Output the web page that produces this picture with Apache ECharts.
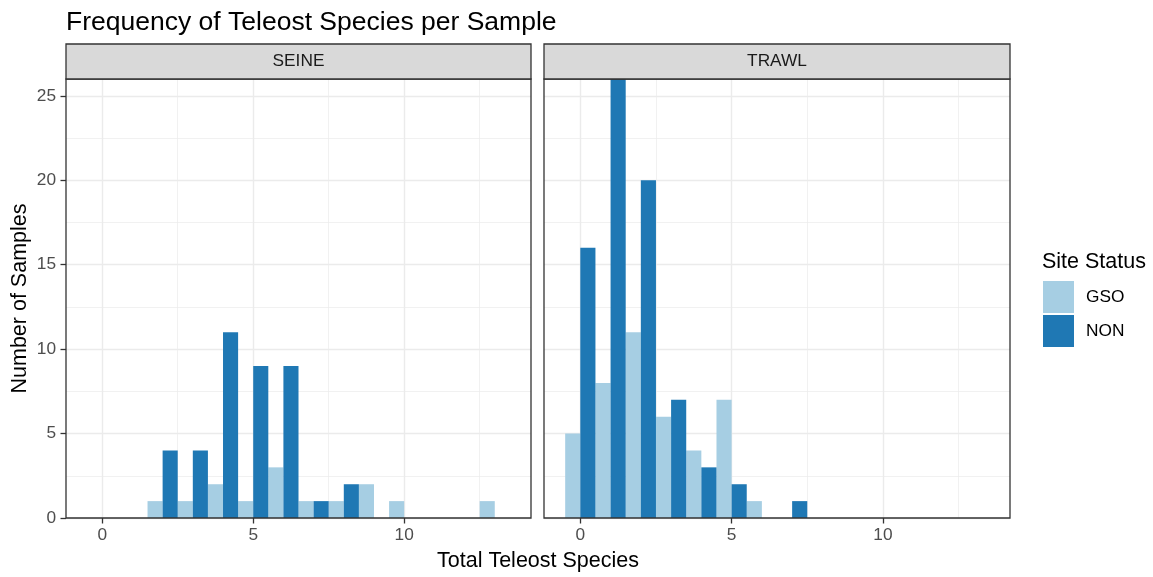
<!DOCTYPE html>
<html>
<head>
<meta charset="utf-8">
<script src="https://cdn.jsdelivr.net/npm/echarts@6/dist/echarts.min.js"></script>
<style>
  html, body { margin: 0; padding: 0; background: #ffffff; }
  #chart { width: 1153px; height: 577px; }
</style>
</head>
<body>
<div id="chart"></div>
<script>
// Histogram bins: number of teleost species caught per sample (bin centres, width 1)
const speciesBins = [0, 1, 2, 3, 4, 5, 6, 7, 8, 9, 10, 11, 12, 13];
// Sample counts per bin, by gear type and site status
const seineGSO = [0, 0, 1, 1, 2, 1, 3, 1, 1, 2, 1, 0, 0, 1];
const seineNON = [0, 0, 4, 4, 11, 9, 9, 1, 2, 0, 0, 0, 0, 0];
const trawlGSO = [5, 8, 11, 6, 4, 7, 1, 0, 0, 0, 0, 0, 0, 0];
const trawlNON = [16, 26, 20, 7, 3, 2, 0, 1, 0, 0, 0, 0, 0, 0];

const panelNames = ['SEINE', 'TRAWL'];
const statusNames = ['GSO', 'NON'];
const statusColors = ['#A6CEE3', '#1F78B4'];

const xMajorTicks = [0, 5, 10];
const xMinorTicks = [2.5, 7.5, 12.5];
const yMajorTicks = [0, 5, 10, 15, 20, 25];
const yMinorTicks = [2.5, 7.5, 12.5, 17.5, 22.5];

const xRange = [-1.2, 14.2];
const yRange = [0, 26];

// Layout
const FONT = "'Liberation Sans', Arial, sans-serif";
const panels = [
  { left: 66, width: 465 },
  { left: 544, width: 466 }
];
const panelTop = 79;
const panelHeight = 439;
const stripTop = 44;
const stripHeight = 35;
const gridColor = '#EBEBEB';
const darkLine = '#333333';

const chart = echarts.init(document.getElementById('chart'), null, { renderer: 'canvas' });

function pairs(values) {
  return speciesBins.map((b, i) => [b, values[i]]);
}

// Dodged histogram bars: GSO takes the left half of a bin, NON the right half
function dodgedBar(side) {
  return function (params, api) {
    const centre = api.value(0);
    const count = api.value(1);
    if (!count) return null;
    const x0 = side === 0 ? centre - 0.5 : centre;
    const x1 = side === 0 ? centre : centre + 0.5;
    const topLeft = api.coord([x0, count]);
    const bottomRight = api.coord([x1, 0]);
    return {
      type: 'rect',
      shape: {
        x: topLeft[0],
        y: topLeft[1],
        width: bottomRight[0] - topLeft[0],
        height: bottomRight[1] - topLeft[1]
      },
      style: { fill: api.visual('color') }
    };
  };
}

const grids = [], xAxes = [], yAxes = [], graphics = [];

panels.forEach((p, g) => {
  grids.push({
    left: p.left, top: panelTop, width: p.width, height: panelHeight,
    outerBoundsMode: 'none', containLabel: false, show: false
  });
  // major x: ticks, labels, major grid lines
  xAxes.push({
    gridIndex: g, type: 'value', min: xRange[0], max: xRange[1], position: 'bottom',
    axisLine: { show: false, onZero: false },
    axisTick: { show: true, customValues: xMajorTicks, length: 5.5, lineStyle: { color: darkLine, width: 1.3 } },
    axisLabel: { customValues: xMajorTicks, color: '#4D4D4D', fontSize: 17.3, fontFamily: FONT, margin: 9 },
    splitLine: { show: true, lineStyle: { color: gridColor, width: 1.4 } }
  });
  // minor x grid lines
  xAxes.push({
    gridIndex: g, type: 'value', min: xRange[0], max: xRange[1], position: 'bottom',
    axisLine: { show: false, onZero: false },
    axisTick: { show: false, customValues: xMinorTicks },
    axisLabel: { show: false },
    splitLine: { show: true, lineStyle: { color: gridColor, width: 0.7 } }
  });
  // major y
  yAxes.push({
    gridIndex: g, type: 'value', min: yRange[0], max: yRange[1], position: 'left',
    axisLine: { show: false, onZero: false },
    axisTick: { show: g === 0, customValues: yMajorTicks, length: 5.5, lineStyle: { color: darkLine, width: 1.3 } },
    axisLabel: { show: g === 0, customValues: yMajorTicks, color: '#4D4D4D', fontSize: 17.3, fontFamily: FONT, margin: 10 },
    splitLine: { show: true, lineStyle: { color: gridColor, width: 1.4 } }
  });
  // minor y grid lines
  yAxes.push({
    gridIndex: g, type: 'value', min: yRange[0], max: yRange[1], position: 'left',
    axisLine: { show: false, onZero: false },
    axisTick: { show: false, customValues: yMinorTicks },
    axisLabel: { show: false },
    splitLine: { show: true, lineStyle: { color: gridColor, width: 0.7 } }
  });

  // panel border drawn above the bars
  graphics.push({
    type: 'rect', z: 100,
    shape: { x: p.left, y: panelTop, width: p.width, height: panelHeight },
    style: { fill: null, stroke: darkLine, lineWidth: 1.3 }
  });
  // facet strip
  graphics.push({
    type: 'rect', z: 100,
    shape: { x: p.left, y: stripTop, width: p.width, height: stripHeight },
    style: { fill: '#D9D9D9', stroke: darkLine, lineWidth: 1.3 }
  });
  graphics.push({
    type: 'text', z: 101,
    x: p.left + p.width / 2, y: stripTop + stripHeight / 2,
    style: { text: panelNames[g], font: `17.3px ${FONT}`, fill: '#1A1A1A', textAlign: 'center', textVerticalAlign: 'middle' }
  });
});

// axis titles
graphics.push({
  type: 'text', z: 101,
  x: (panels[0].left + panels[1].left + panels[1].width) / 2, y: 561,
  style: { text: 'Total Teleost Species', font: `21.5px ${FONT}`, fill: '#000000', textAlign: 'center', textVerticalAlign: 'middle' }
});
graphics.push({
  type: 'text', z: 101,
  x: 20, y: panelTop + panelHeight / 2, rotation: Math.PI / 2,
  style: { text: 'Number of Samples', font: `21.5px ${FONT}`, fill: '#000000', textAlign: 'center', textVerticalAlign: 'middle' }
});
// legend title
graphics.push({
  type: 'text', z: 101,
  x: 1042, y: 262,
  style: { text: 'Site Status', font: `21.5px ${FONT}`, fill: '#000000', textAlign: 'left', textVerticalAlign: 'middle' }
});

const seriesData = [
  [pairs(seineGSO), pairs(seineNON)],
  [pairs(trawlGSO), pairs(trawlNON)]
];
const series = [];
seriesData.forEach((bySide, g) => {
  bySide.forEach((data, s) => {
    series.push({
      type: 'custom',
      name: statusNames[s],
      xAxisIndex: g * 2,
      yAxisIndex: g * 2,
      data: data,
      encode: { x: 0, y: 1 },
      itemStyle: { color: statusColors[s] },
      renderItem: dodgedBar(s),
      z: 5
    });
  });
});

chart.setOption({
  animation: false,
  backgroundColor: '#ffffff',
  textStyle: { fontFamily: FONT },
  title: {
    text: 'Frequency of Teleost Species per Sample',
    left: 66, top: 9, padding: 0,
    textStyle: { fontSize: 26.5, fontWeight: 'normal', color: '#000000', fontFamily: FONT }
  },
  legend: {
    data: statusNames,
    orient: 'vertical',
    left: 1043, top: 281,
    itemWidth: 31, itemHeight: 32, itemGap: 2,
    icon: 'rect',
    selectedMode: false,
    padding: 0,
    textStyle: { fontSize: 17.3, color: '#000000', fontFamily: FONT, padding: [0, 0, 0, 7] }
  },
  grid: grids,
  xAxis: xAxes,
  yAxis: yAxes,
  graphic: graphics,
  series: series
});
</script>
</body>
</html>
